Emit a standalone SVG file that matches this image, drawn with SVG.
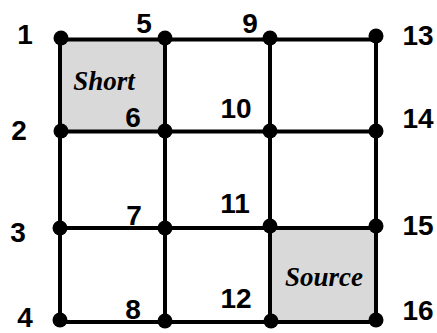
<svg xmlns="http://www.w3.org/2000/svg" width="437" height="333" viewBox="0 0 437 333">
<style>
.lbl{font-family:"Liberation Sans",Arial,sans-serif;font-weight:bold;font-size:28px;fill:#000;text-anchor:middle}
.cell{font-family:"Liberation Serif","Times New Roman",serif;font-weight:bold;font-style:italic;font-size:27px;fill:#000;text-anchor:middle}
.ln{stroke:#000;stroke-width:4;fill:none}
.dot{fill:#000}
.shade{fill:#d9d9d9}
</style>
<rect width="437" height="333" fill="#fff"/>
<rect class="shade" x="60" y="39.5" width="105" height="92"/>
<rect class="shade" x="270" y="228" width="106" height="94"/>
<g id="connectors">
<line class="ln" x1="60" y1="39.5" x2="376" y2="39.5"/>
<line class="ln" x1="60" y1="131.5" x2="376" y2="131.5"/>
<line class="ln" x1="60" y1="228" x2="376" y2="228"/>
<line class="ln" x1="60" y1="322" x2="376" y2="322"/>
<line class="ln" x1="60" y1="39.5" x2="60" y2="322"/>
<line class="ln" x1="165" y1="39.5" x2="165" y2="322"/>
<line class="ln" x1="270" y1="39.5" x2="270" y2="322"/>
<line class="ln" x1="376" y1="39.5" x2="376" y2="322"/>
</g>
<g id="n1"><circle class="dot" cx="61" cy="38" r="7.5"/><text class="lbl" x="25" y="44">1</text></g>
<g id="n2"><circle class="dot" cx="61" cy="131" r="7.5"/><text class="lbl" x="19" y="140">2</text></g>
<g id="n3"><circle class="dot" cx="60" cy="228" r="7.5"/><text class="lbl" x="18" y="242">3</text></g>
<g id="n4"><circle class="dot" cx="60" cy="320" r="7.5"/><text class="lbl" x="25" y="327">4</text></g>
<g id="n5"><circle class="dot" cx="165" cy="38" r="7.5"/><text class="lbl" x="144" y="33">5</text></g>
<g id="n6"><circle class="dot" cx="165" cy="131" r="7.5"/><text class="lbl" x="133" y="127">6</text></g>
<g id="n7"><circle class="dot" cx="165" cy="228" r="7.5"/><text class="lbl" x="134" y="225">7</text></g>
<g id="n8"><circle class="dot" cx="165" cy="321" r="7.5"/><text class="lbl" x="133" y="319">8</text></g>
<g id="n9"><circle class="dot" cx="270" cy="38" r="7.5"/><text class="lbl" x="250" y="33">9</text></g>
<g id="n10"><circle class="dot" cx="270" cy="131" r="7.5"/><text class="lbl" x="236" y="118">10</text></g>
<g id="n11"><circle class="dot" cx="270" cy="226" r="7.5"/><text class="lbl" x="235" y="213">11</text></g>
<g id="n12"><circle class="dot" cx="271" cy="321" r="7.5"/><text class="lbl" x="236" y="308">12</text></g>
<g id="n13"><circle class="dot" cx="376" cy="36" r="7.5"/><text class="lbl" x="418" y="45">13</text></g>
<g id="n14"><circle class="dot" cx="376" cy="131" r="7.5"/><text class="lbl" x="418" y="128">14</text></g>
<g id="n15"><circle class="dot" cx="376" cy="226" r="7.5"/><text class="lbl" x="418" y="235">15</text></g>
<g id="n16"><circle class="dot" cx="376" cy="320" r="7.5"/><text class="lbl" x="418" y="320">16</text></g>
<g id="short"><text class="cell" x="104" y="90">Short</text></g>
<g id="source"><text class="cell" x="324" y="286">Source</text></g>
</svg>
